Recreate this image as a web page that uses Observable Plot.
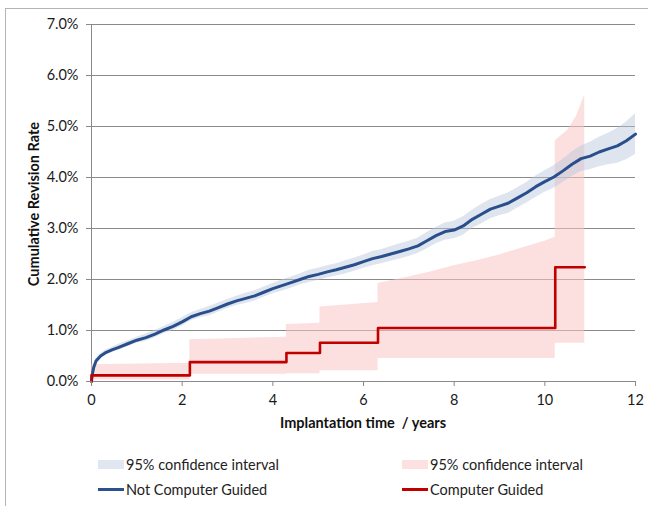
<!DOCTYPE html>
<html><head><meta charset="utf-8">
<script src="https://cdn.jsdelivr.net/npm/d3@7"></script>
<script src="https://cdn.jsdelivr.net/npm/@observablehq/plot@0.6"></script>
<style>
body{margin:0;background:#fff;font-family:Lato,"Open Sans",sans-serif;}
#wrap{position:relative;width:648px;height:506px;overflow:hidden;background:#fff;}
#border{position:absolute;left:5px;top:8px;width:700px;height:600px;border:1px solid #b4b4b4;box-sizing:border-box;}
#chart{position:absolute;left:0;top:0;}
.ttl{position:absolute;font-weight:bold;font-size:14.5px;color:#111;white-space:nowrap;}
.leg{position:absolute;font-size:14.5px;color:#222;display:flex;align-items:center;white-space:nowrap;height:18px;}
.sw{display:inline-block;width:26px;margin-right:2px;}
</style></head>
<body>
<div id="wrap">
<div id="border"></div>
<div id="chart"></div>
<div class="ttl" id="xt" style="left:0;width:726px;text-align:center;top:414px;">Implantation time&nbsp; / years</div>
<div class="ttl" id="yt" style="left:33px;top:204px;transform:translate(-50%,-50%) rotate(-90deg);">Cumulative Revision Rate</div>
<div class="leg" style="left:98px;top:455px;"><span class="sw" style="height:9px;background:#e1e7f0;"></span>95% confidence interval</div>
<div class="leg" style="left:402px;top:455px;"><span class="sw" style="height:9px;background:#fde1e1;"></span>95% confidence interval</div>
<div class="leg" style="left:98px;top:480px;"><span class="sw" style="height:3px;background:#2a5290;"></span>Not Computer Guided</div>
<div class="leg" style="left:402px;top:480px;"><span class="sw" style="height:3px;background:#c00000;"></span>Computer Guided</div>
</div>
<script>
// Not Computer Guided (cumulative revision rate, %)
const ncgTime = [0,0.02,0.05,0.1,0.2,0.3,0.45,0.6,0.8,1.0,1.2,1.4,1.6,1.8,2.0,2.2,2.4,2.6,2.8,3.0,3.2,3.4,3.6,3.8,4.0,4.2,4.4,4.6,4.8,5.0,5.2,5.4,5.6,5.8,6.0,6.2,6.4,6.6,6.8,7.0,7.2,7.4,7.6,7.8,8.0,8.2,8.4,8.6,8.8,9.0,9.2,9.4,9.6,9.8,10.0,10.2,10.4,10.6,10.8,11.0,11.2,11.4,11.6,11.8,12.0];
const ncgRate = [0,0.15,0.28,0.40,0.50,0.56,0.62,0.67,0.74,0.81,0.86,0.93,1.01,1.08,1.17,1.27,1.33,1.38,1.45,1.52,1.58,1.63,1.68,1.75,1.82,1.88,1.94,2.00,2.06,2.10,2.15,2.19,2.24,2.29,2.35,2.41,2.45,2.50,2.55,2.60,2.66,2.76,2.86,2.94,2.97,3.05,3.18,3.28,3.38,3.44,3.50,3.60,3.70,3.82,3.92,4.01,4.13,4.26,4.37,4.42,4.50,4.56,4.62,4.72,4.85];
const ncgLow  = [0,0.12,0.24,0.35,0.45,0.51,0.57,0.61,0.68,0.75,0.79,0.86,0.94,1.00,1.09,1.19,1.25,1.29,1.36,1.43,1.49,1.53,1.58,1.65,1.72,1.77,1.83,1.89,1.94,1.98,2.03,2.07,2.11,2.16,2.22,2.27,2.31,2.36,2.40,2.45,2.51,2.60,2.70,2.77,2.80,2.87,3.00,3.09,3.19,3.25,3.30,3.40,3.50,3.61,3.71,3.79,3.90,4.02,4.12,4.15,4.21,4.25,4.28,4.35,4.45];
const ncgHigh = [0,0.18,0.32,0.45,0.55,0.61,0.67,0.73,0.80,0.87,0.93,1.00,1.08,1.16,1.25,1.35,1.41,1.47,1.54,1.61,1.67,1.73,1.78,1.85,1.92,1.99,2.05,2.11,2.18,2.22,2.27,2.31,2.37,2.42,2.48,2.55,2.59,2.64,2.70,2.75,2.81,2.92,3.02,3.11,3.14,3.23,3.36,3.47,3.57,3.63,3.70,3.80,3.90,4.03,4.13,4.23,4.36,4.50,4.62,4.69,4.79,4.87,4.96,5.09,5.25];

// Computer Guided (step function, %)
const cgTime = [0,0,2.17,4.30,5.04,6.32,10.23,10.88];
const cgRate = [0,0.12,0.38,0.56,0.76,1.05,2.24,2.24];
const cgCiTime = [0,2.17,2.17,4.30,4.30,5.04,5.04,6.32,6.32,7.0,7.5,8.0,8.5,9.0,9.5,10.0,10.23,10.23,10.5,10.7,10.88];
const cgLow    = [0.03,0.03,0.14,0.14,0.15,0.15,0.21,0.21,0.45,0.45,0.45,0.45,0.45,0.45,0.45,0.45,0.45,0.75,0.75,0.75,0.75];
const cgHigh   = [0.33,0.36,0.82,0.87,1.12,1.14,1.46,1.55,1.92,2.05,2.15,2.27,2.37,2.48,2.62,2.75,2.83,4.72,4.92,5.20,5.62];

const xTicks = [0,2,4,6,8,10,12];
const yTicks = [0,1,2,3,4,5,6,7];

const ncg = ncgTime.map((t,i)=>({t, v:ncgRate[i], lo:ncgLow[i], hi:ncgHigh[i]}));
const cg = cgTime.map((t,i)=>({t, v:cgRate[i]}));
const cgci = cgCiTime.map((t,i)=>({t, lo:cgLow[i], hi:cgHigh[i]}));

const grid = "#8a8a8a";
const chart = Plot.plot({
  width:648, height:440,
  marginLeft:91, marginRight:13, marginTop:24, marginBottom:59,
  style:{fontFamily:"Lato, 'Open Sans', sans-serif", fontSize:"14.5px", color:"#222", background:"transparent", overflow:"visible"},
  x:{domain:[0,12]},
  y:{domain:[0,7]},
  marks:[
    Plot.ruleY(yTicks, {stroke:grid, strokeWidth:1}),
    Plot.ruleX([0], {stroke:grid, strokeWidth:1}),
    Plot.areaY(cgci, {x:"t", y1:"lo", y2:"hi", fill:"#f9c4c4", fillOpacity:0.55}),
    Plot.areaY(ncg, {x:"t", y1:"lo", y2:"hi", fill:"#b7c6dc", fillOpacity:0.45}),
    Plot.line(ncg, {x:"t", y:"v", stroke:"#284e8c", strokeWidth:3}),
    Plot.line(cg, {x:"t", y:"v", stroke:"#c00000", strokeWidth:2.6, curve:"step-after"}),
    Plot.axisY({ticks:yTicks, tickFormat:d=>d.toFixed(1)+"%", tickSize:5, tickPadding:8, stroke:grid, fill:"#1a1a1a", label:null}),
    Plot.axisX({ticks:xTicks, tickSize:5, tickPadding:8, stroke:grid, fill:"#1a1a1a", label:null})
  ]
});
document.getElementById("chart").appendChild(chart);
</script>
</body></html>
